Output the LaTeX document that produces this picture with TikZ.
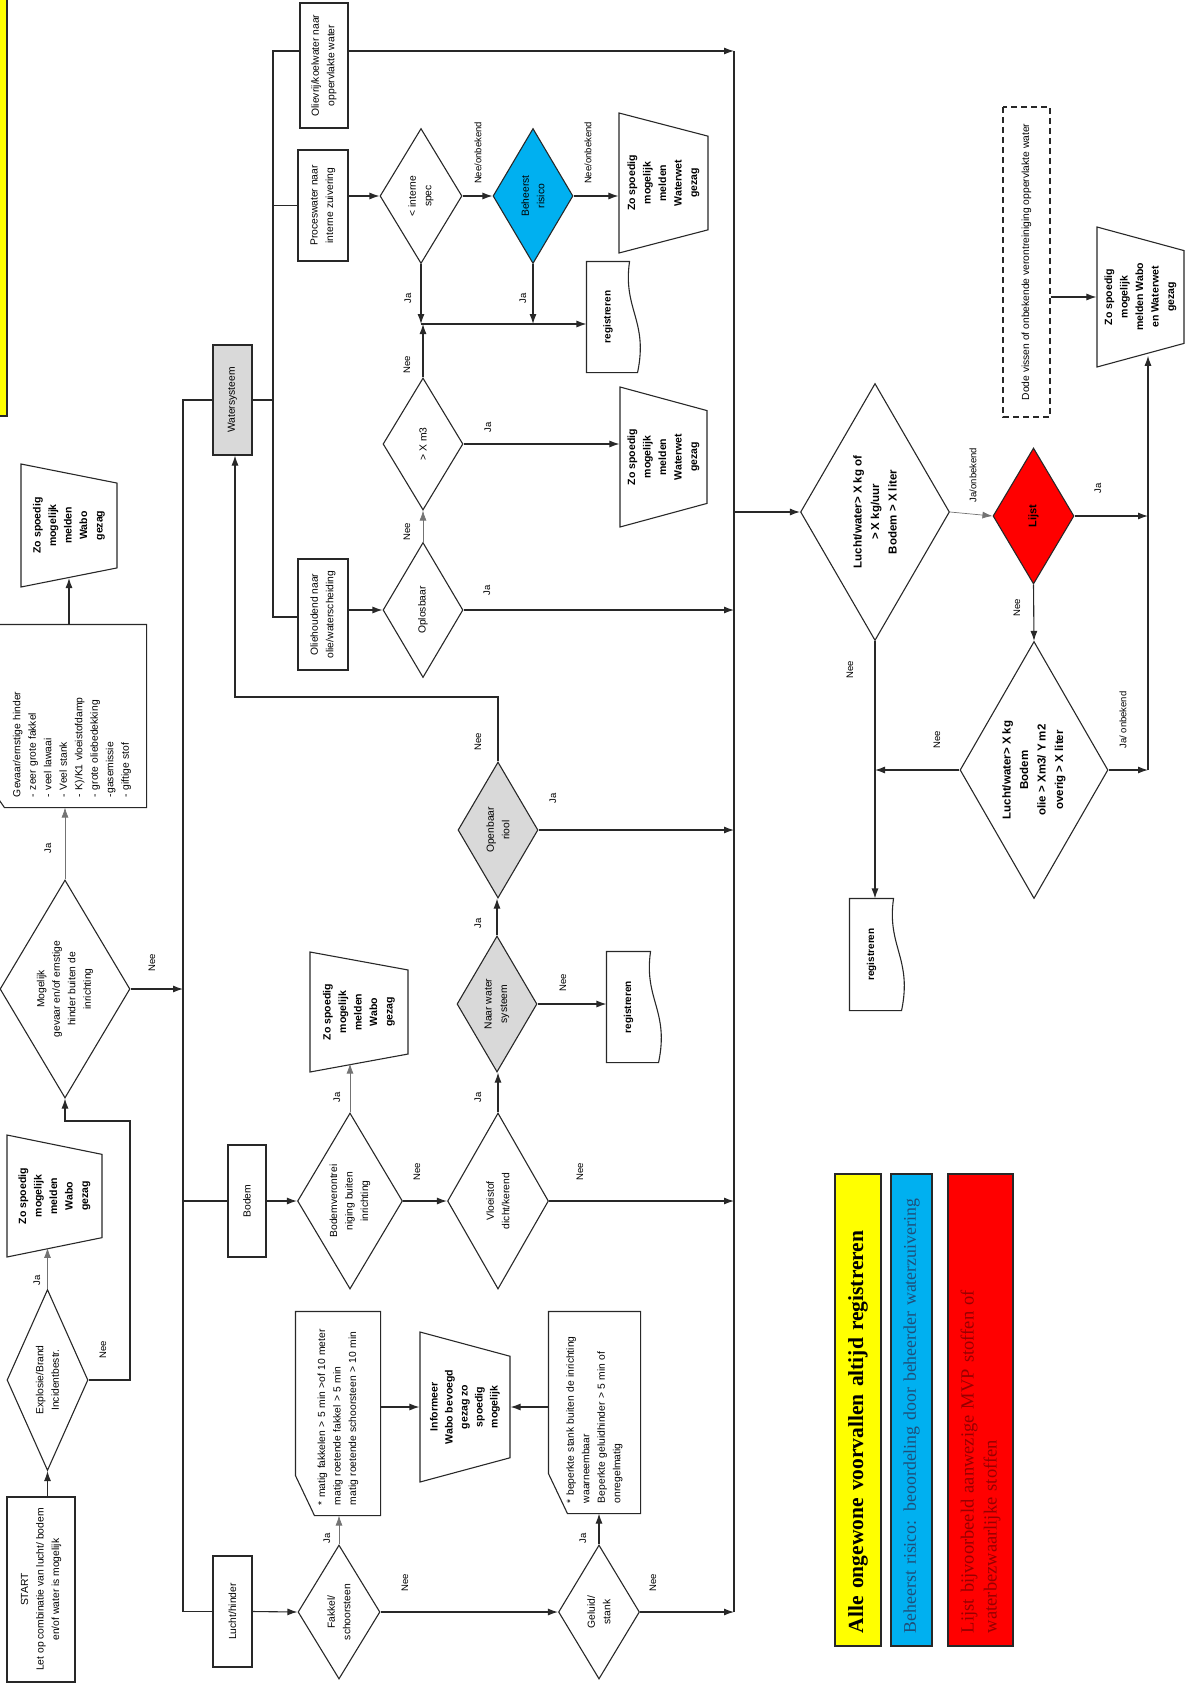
\documentclass[tikz,border=0pt]{standalone}
\usepackage{fontspec}
\setmainfont{Liberation Sans}
\newfontfamily\legendfont{Liberation Serif}
\usetikzlibrary{arrows.meta,shapes.geometric}

\definecolor{flowgray}{RGB}{217,217,217}
\definecolor{riskblue}{RGB}{0,176,240}
\definecolor{riskbluetext}{RGB}{31,78,121}
\definecolor{listred}{RGB}{255,0,0}
\definecolor{listredtext}{RGB}{150,0,0}
\definecolor{noteyellow}{RGB}{255,255,0}
\definecolor{edge}{RGB}{40,40,40}

\tikzset{
  shapeline/.style={draw=edge, line width=1.1pt},
  base/.style={shapeline, rotate=90, inner sep=1.5pt, align=center,
               font=\fontsize{10.3}{15.5}\selectfont},
  proc/.style={base, rectangle},
  decision/.style={base, diamond, aspect=1.7, inner sep=0pt},
  manual/.style={base, trapezium, trapezium stretches body, trapezium angle=#1,
                 font=\bfseries\fontsize{10.5}{15.5}\selectfont},
  card/.style={base, rectangle, draw=none, align=left, inner xsep=10pt},
  docu/.style={base, rectangle, draw=none, font=\bfseries\fontsize{10}{12}\selectfont},
  legend/.style={base, rectangle, align=left, inner xsep=13pt,
                 font=\legendfont\fontsize{18.5}{23}\selectfont},
  lbl/.style={rotate=90, inner sep=0pt, font=\fontsize{9.5}{11}\selectfont},
  flow/.style={draw=edge, line width=1.1pt, -{Latex[length=10pt,width=7pt]}},
  thinflow/.style={flow, draw=black!55, line width=0.7pt},
  wire/.style={draw=edge, line width=1.1pt},
}

% punched card outline: corner cut at the lower left of the turned page
\newcommand{\cardoutline}[3]{%
  \draw[shapeline] (#1.north east) -- (#1.south east) -- (#1.south west)
    -- ([xshift=#2]#1.north west) -- ([yshift=#3]#1.north west) -- cycle;}
% document outline: wavy edge on the right of the turned page
\newcommand{\docoutline}[1]{%
  \draw[shapeline] (#1.north east) -- (#1.south east)
    .. controls +(-7,48) and +(11,-52) .. ([xshift=8pt]#1.south west)
    -- (#1.north west) -- cycle;}

\begin{document}
\begin{tikzpicture}[x=1pt,y=-1pt]
  \useasboundingbox (0,0) rectangle (1186,1683);
  \pgfmathsetmacro{\busL}{183}\pgfmathsetmacro{\busW}{273}
  \pgfmathsetmacro{\busR}{734}\pgfmathsetmacro{\busZ}{1148}

  % ---- note strip, cut by the page edge --------------------------------
  \fill[noteyellow] (0,0) rectangle (7,416);
  \draw[wire] (0,416) -- (7,416) -- (7,0);

  % ---- start column ------------------------------------------------------
  \node[proc, minimum width=185pt, minimum height=68pt] (start) at (41,1589.5)
        {START\\Let op combinatie van lucht/ bodem\\en/of water is mogelijk};
  \node[decision, minimum width=181pt, minimum height=81pt] (explo) at (47.5,1380)
        {Explosie/Brand\\Incidentbestr.};
  \node[manual=104.5, minimum width=122pt, minimum height=95pt] (meld1) at (54.5,1196)
        {Zo spoedig\\mogelijk\\melden\\Wabo\\gezag};
  \node[decision, minimum width=218pt, minimum height=130pt] (mogelijk) at (65,989)
        {Mogelijk\\gevaar en/of ernstige\\hinder buiten de\\inrichting};
  \node[card, minimum width=182pt, minimum height=148pt, text width=162pt] (gevaar) at (72,716)
        {Gevaar/ernstige hinder\\- zeer grote fakkel\\- veel lawaai\\- Veel stank\\- K)/K1 vloeistofdamp\\- grote oliebedekking\\-gasemissie\\- giftige stof};
  \cardoutline{gevaar}{7pt}{10pt}
  \node[manual=104.3, minimum width=123pt, minimum height=96pt] (meld2) at (69,525.5)
        {Zo spoedig\\mogelijk\\melden\\Wabo\\gezag};

  % ---- the three compartments -------------------------------------------
  \node[proc, fill=flowgray, minimum width=110pt, minimum height=39pt] (water) at (232.5,400) {Watersysteem};
  \node[proc, minimum width=112pt, minimum height=38pt] (bodem) at (247,1201) {Bodem};
  \node[proc, minimum width=111pt, minimum height=39pt] (lucht) at (232.5,1611.5) {Lucht/hinder};

  % ---- lucht / hinder ----------------------------------------------------
  \node[decision, minimum width=134pt, minimum height=82pt] (fakkel) at (339,1612) {Fakkel/\\schoorsteen};
  \node[card, minimum width=203pt, minimum height=84pt, text width=183pt] (matig) at (338,1413.5)
        {* matig fakkelen > 5 min >of 10 meter\\* matig roetende fakkel > 5 min\\* matig roetende schoorsteen > 10 min};
  \cardoutline{matig}{19pt}{40pt}
  \node[manual=108.4, minimum width=150pt, minimum height=90pt,
        font=\bfseries\fontsize{10.5}{15}\selectfont] (informeer) at (465,1407)
        {Informeer\\Wabo bevoegd\\gezag zo\\spoedig\\mogelijk};
  \node[card, minimum width=201pt, minimum height=91pt, text width=181pt] (beperkt) at (594.5,1412.5)
        {* beperkte stank buiten de inrichting\\waarneembaar\\Beperkte geluidhinder > 5 min of\\onregelmatig};
  \cardoutline{beperkt}{19pt}{40pt}
  \node[decision, minimum width=134pt, minimum height=81pt] (geluid) at (599,1612) {Geluid/\\stank};

  % ---- bodem ---------------------------------------------------------------
  \node[decision, minimum width=176pt, minimum height=105pt] (bodemver) at (350,1201)
        {Bodemverontrei\\niging buiten\\inrichting};
  \node[manual=103.5, minimum width=120pt, minimum height=98pt] (meld3) at (359,1012)
        {Zo spoedig\\mogelijk\\melden\\Wabo\\gezag};
  \node[decision, minimum width=176pt, minimum height=101pt] (vloei) at (498,1201) {Vloeistof\\dicht/kerend};
  \node[decision, fill=flowgray, minimum width=136pt, minimum height=80pt] (naarwater) at (497,1004)
        {Naar water\\systeem};
  \node[docu, minimum width=110pt, minimum height=43pt] (reg1) at (628.5,1007) {registreren};
  \docoutline{reg1}
  \node[decision, fill=flowgray, minimum width=136pt, minimum height=80pt] (riool) at (498,830) {Openbaar\\riool};

  % ---- watersysteem --------------------------------------------------------
  \node[proc, minimum width=111pt, minimum height=50pt] (oliehoud) at (323,614.5) {Oliehoudend naar\\olie/waterscheiding};
  \node[proc, minimum width=111pt, minimum height=50pt] (proces) at (323,205.5) {Proceswater naar\\interne zuivering};
  \node[proc, minimum width=125pt, minimum height=48pt] (olievrij) at (324,65.5) {Olievrij/koelwater naar\\oppervlakte water};
  \node[decision, minimum width=135pt, minimum height=80pt] (oplos) at (423,610) {Oplosbaar};
  \node[decision, minimum width=132pt, minimum height=80pt] (xm3) at (423,444) {> X m3};
  \node[manual=107.5, minimum width=140pt, minimum height=87pt] (meld4) at (663.5,457)
        {Zo spoedig\\mogelijk\\melden\\Waterwet\\gezag};
  \node[decision, minimum width=135pt, minimum height=82pt] (spec) at (421,196) {< interne\\spec};
  \node[decision, fill=riskblue, minimum width=135pt, minimum height=80pt] (beheerst) at (533,196) {Beheerst\\risico};
  \node[docu, minimum width=110pt, minimum height=42pt] (reg2) at (608,317) {registreren};
  \docoutline{reg2}
  \node[manual=107.2, minimum width=140pt, minimum height=89pt] (meld5) at (663.5,183)
        {Zo spoedig\\mogelijk\\melden\\Waterwet\\gezag};

  % ---- thresholds ----------------------------------------------------------
  \node[decision, font=\bfseries\fontsize{11.5}{17.5}\selectfont,
        minimum width=257pt, minimum height=149pt] (grens1) at (875,512)
        {Lucht/water> X kg of\\> X kg/uur\\Bodem > X liter};
  \node[decision, fill=listred, font=\bfseries\fontsize{11}{13}\selectfont,
        minimum width=136pt, minimum height=81pt] (lijst) at (1033.5,516) {Lijst};
  \node[decision, font=\bfseries\fontsize{11.5}{17.5}\selectfont,
        minimum width=257pt, minimum height=148pt] (grens2) at (1034,770)
        {Lucht/water> X kg\\Bodem\\olie > Xm3/ Y m2\\overig > X liter};
  \node[docu, minimum width=111pt, minimum height=43pt] (reg3) at (871.5,954.5) {registreren};
  \docoutline{reg3}
  \node[manual=107.5, minimum width=140pt, minimum height=87pt] (meld6) at (1140.5,297)
        {Zo spoedig\\mogelijk\\melden Wabo\\en Waterwet\\gezag};
  \node[proc, dash pattern=on 6pt off 4pt, minimum width=310pt, minimum height=47pt] (dode) at (1026.5,262)
        {Dode vissen of onbekende verontreiniging oppervlakte water};

  % ---- legend --------------------------------------------------------------
  \node[legend, fill=noteyellow, minimum width=472pt, minimum height=46pt, text width=446pt,
        font=\legendfont\bfseries\fontsize{21.5}{24}\selectfont] (legAlle) at (858,1410)
        {Alle ongewone voorvallen altijd registreren};
  \node[legend, fill=riskblue, text=riskbluetext, minimum width=472pt, minimum height=41pt,
        inner xsep=7pt, text width=458pt, font=\legendfont\fontsize{17.8}{22}\selectfont]
        (legBeheerst) at (911.5,1410)
        {\hspace*{6pt}Beheerst risico: beoordeling door beheerder waterzuivering};
  \node[legend, fill=listred, text=listredtext, minimum width=472pt, minimum height=65pt,
        text width=446pt] (legLijst) at (980.5,1410)
        {Lijst bijvoorbeeld aanwezige MVP stoffen of\\waterbezwaarlijke stoffen};

  % ---- bends and buses -----------------------------------------------------
  \coordinate (nbend) at (130,1121);
  \coordinate (busLtop) at (\busL,400);   \coordinate (busLbot) at (\busL,1611.5);
  \coordinate (busWtop) at (\busW,51);    \coordinate (busWbot) at (\busW,617);
  \coordinate (busRtop) at (\busR,51);    \coordinate (busRbot) at (\busR,1612);
  \coordinate (rbend) at (235,697);
  \coordinate (junction) at (421,324);
  \coordinate (busZbot) at (\busZ,770);

  % ---- connectors: start column --------------------------------------------
  \draw[flow] (explo.west |- start.east) -- (explo.west);
  \draw[thinflow] (explo.east) -- (explo.east |- meld1.west);
  \draw[flow] (explo.south) -| (nbend) -| (mogelijk.west);
  \draw[flow] (mogelijk.south) -- (mogelijk.south -| busLtop);
  \draw[thinflow] (mogelijk.east) -- (mogelijk.east |- gevaar.west);
  \draw[flow] (meld2.west |- gevaar.east) -- (meld2.west);
  \draw[wire] (water.north) -- (busLtop) -- (busLbot) -- (lucht.north);
  \draw[wire] (busLtop |- bodem.north) -- (bodem.north);

  % ---- connectors: lucht / hinder --------------------------------------------
  \draw[flow] (lucht.south) -- (fakkel.north);
  \draw[thinflow] (fakkel.east) -- (fakkel.east |- matig.west);
  \draw[flow] (matig.south |- informeer.north) -- (informeer.north);
  \draw[flow] (beperkt.north |- informeer.south) -- (informeer.south);
  \draw[flow] (fakkel.south) -- (geluid.north);
  \draw[flow] (geluid.east) -- (geluid.east |- beperkt.west);
  \draw[flow] (geluid.south) -- (geluid.south -| busRbot);

  % ---- connectors: bodem -------------------------------------------------------
  \draw[flow] (bodem.south) -- (bodemver.north);
  \draw[thinflow] (bodemver.east) -- (bodemver.east |- meld3.west);
  \draw[flow] (bodemver.south) -- (vloei.north);
  \draw[flow] (vloei.east) -- (vloei.east |- naarwater.west);
  \draw[flow] (vloei.south) -- (vloei.south -| busRbot);
  \draw[flow] (naarwater.east) -- (naarwater.east |- riool.west);
  \draw[flow] (naarwater.south) -- (naarwater.south -| reg1.north);
  \draw[flow] (riool.south) -- (riool.south -| busRbot);
  \draw[flow] (riool.east) |- (rbend) -- (rbend |- water.west);

  % ---- connectors: watersysteem ------------------------------------------------
  \draw[wire] (olievrij.north |- busWtop) -- (busWtop) -- (busWbot) -- (busWbot -| oliehoud.north);
  \draw[wire] (water.south) -- (water.south -| busWtop);
  \draw[wire] (busWtop |- proces.north) -- (proces.north);
  \draw[flow] (olievrij.south |- busRtop) -- (busRtop);
  \draw[wire] (busRtop) -- (busRbot);
  \draw[flow] (proces.south |- spec.north) -- (spec.north);
  \draw[flow] (spec.south) -- (beheerst.north);
  \draw[flow] (beheerst.south) -- (beheerst.south -| meld5.north);
  \draw[flow] (spec.west) -- (spec.west |- junction);
  \draw[flow] (beheerst.west) -- (beheerst.west |- junction);
  \draw[flow] (xm3.east) -- (xm3.east |- junction);
  \draw[flow] (junction) -- (junction -| reg2.north);
  \draw[flow] (oliehoud.south |- oplos.north) -- (oplos.north);
  \draw[thinflow] (oplos.east) -- (xm3.west);
  \draw[flow] (oplos.south) -- (oplos.south -| busRtop);
  \draw[flow] (xm3.south) -- (xm3.south -| meld4.north);

  % ---- connectors: thresholds ----------------------------------------------------
  \draw[flow] (grens1.north -| busRtop) -- (grens1.north);
  \draw[thinflow] (grens1.south) -- (lijst.north);
  \draw[flow] (lijst.south) -- (lijst.south -| busZbot);
  \draw[flow] (lijst.west) -- (grens2.east);
  \draw[flow] (grens1.west) -- (grens1.west |- reg3.east);
  \draw[flow] (grens2.north) -- (grens2.north -| grens1.west);
  \draw[flow] (grens2.south) -- (busZbot);
  \draw[flow] (busZbot) -- (busZbot |- meld6.west);
  \draw[flow] (dode.south |- meld6.north) -- (meld6.north);

  % ---- branch labels ---------------------------------------------------------------
  \node[lbl] (jaExplo) at (37,1280) {Ja};
  \node[lbl] (neeExplo) at (103,1350) {Nee};
  \node[lbl] (neeMogelijk) at (152,963) {Nee};
  \node[lbl] (jaMogelijk) at (48,848) {Ja};
  \node[lbl] (jaFakkel) at (327,1538) {Ja};
  \node[lbl] (neeFakkel) at (405,1583) {Nee};
  \node[lbl] (jaGeluid) at (583,1538) {Ja};
  \node[lbl] (neeGeluid) at (653,1583) {Nee};
  \node[lbl] (jaBodemver) at (337,1097) {Ja};
  \node[lbl] (neeBodemver) at (417,1172) {Nee};
  \node[lbl] (jaVloei) at (478,1097) {Ja};
  \node[lbl] (neeVloei) at (580,1172) {Nee};
  \node[lbl] (jaNaarwater) at (478,923) {Ja};
  \node[lbl] (neeNaarwater) at (563,983) {Nee};
  \node[lbl] (jaRiool) at (553,798) {Ja};
  \node[lbl] (neeRiool) at (478,742) {Nee};
  \node[lbl] (neeSpec) at (478,153) {Nee/onbekend};
  \node[lbl] (neeBeheerst) at (588,153) {Nee/onbekend};
  \node[lbl] (jaSpec) at (408,298) {Ja};
  \node[lbl] (neeXm3) at (407,365) {Nee};
  \node[lbl] (jaBeheerst) at (523,298) {Ja};
  \node[lbl] (neeOplos) at (407,532) {Nee};
  \node[lbl] (jaOplos) at (487,590) {Ja};
  \node[lbl] (jaXm3) at (488,427) {Ja};
  \node[lbl] (jaGrens1) at (973,475) {Ja/onbekend};
  \node[lbl] (jaLijst) at (1098,488) {Ja};
  \node[lbl] (neeLijst) at (1017,608) {Nee};
  \node[lbl] (neeGrens1) at (850,670) {Nee};
  \node[lbl] (neeGrens2) at (937,740) {Nee};
  \node[lbl] (jaGrens2) at (1123,720) {Ja/ onbekend};
\end{tikzpicture}
\end{document}
